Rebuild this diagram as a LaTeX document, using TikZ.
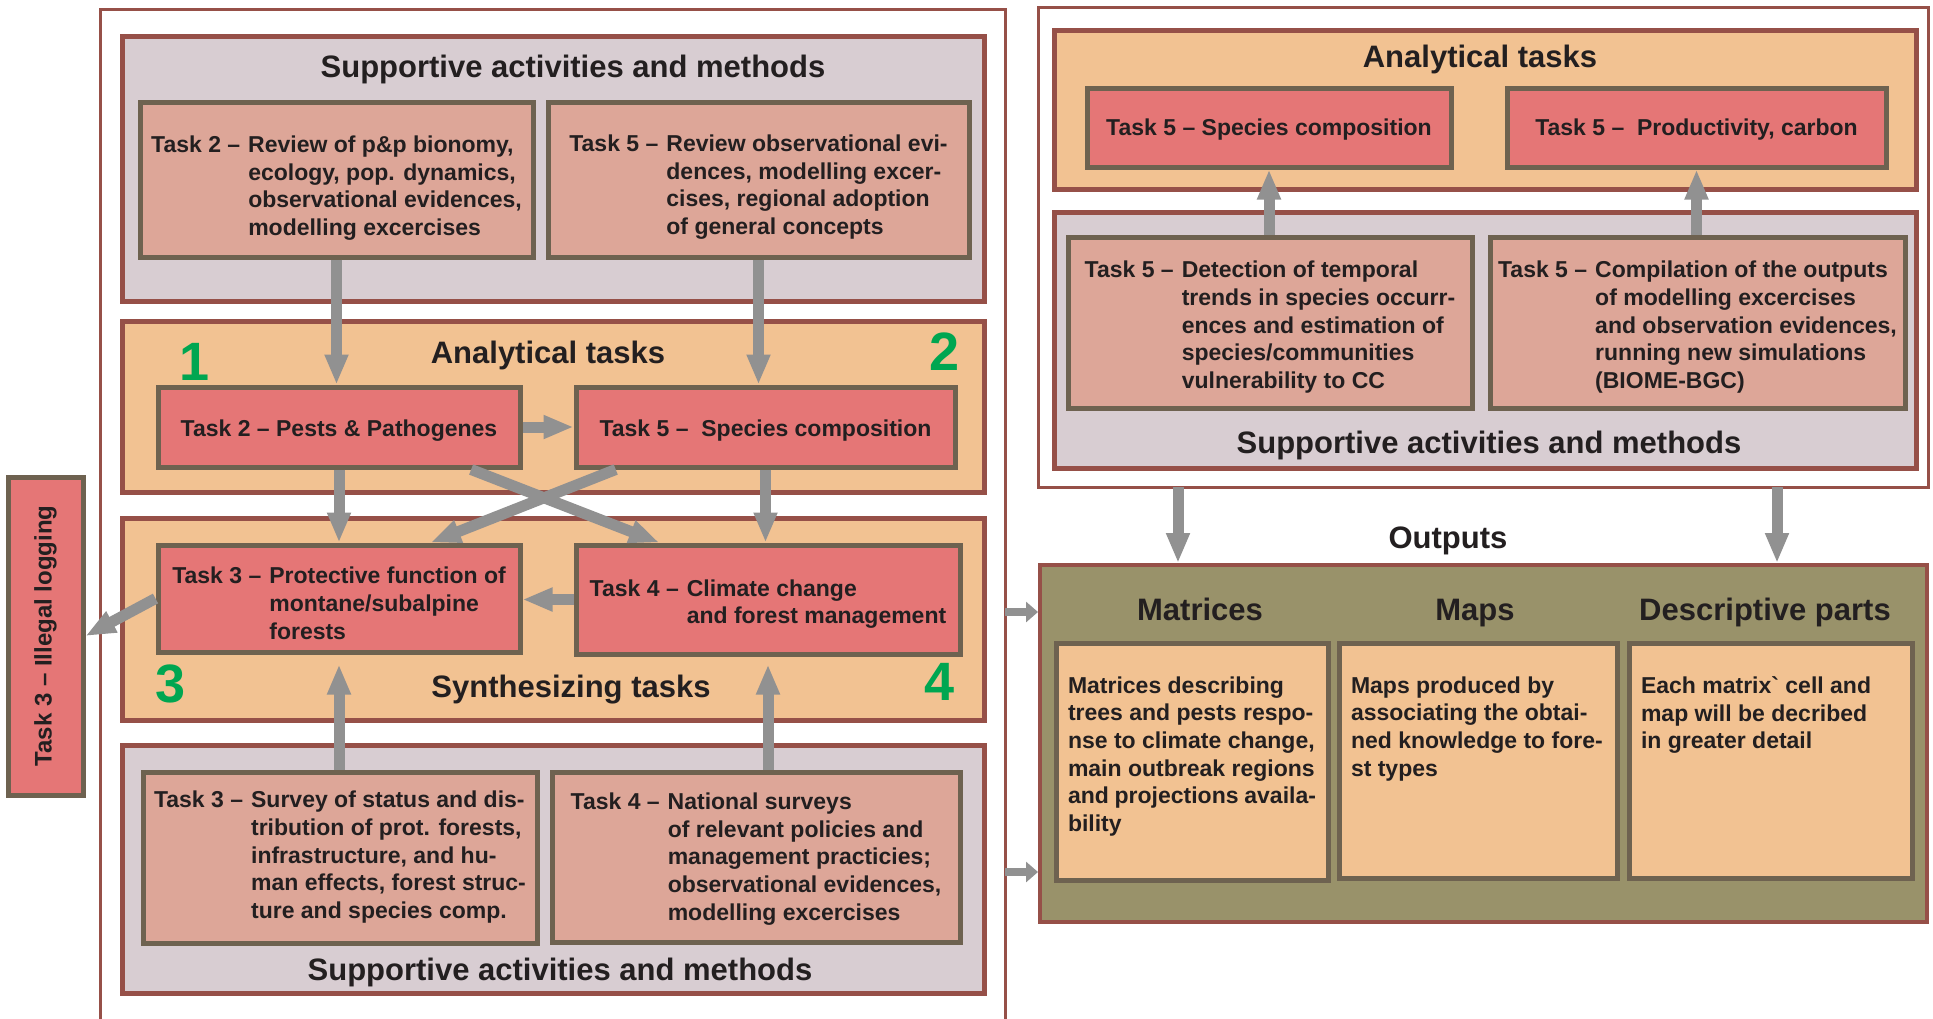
\documentclass[tikz,border=0pt]{standalone}
\usepackage{fontspec}
\setmainfont{Liberation Sans}
\usepackage{graphicx}
\usetikzlibrary{arrows.meta,calc}

\definecolor{frameRed}{HTML}{965048}
\definecolor{boxEdge}{HTML}{6E6250}
\definecolor{lavender}{HTML}{D8CDD2}
\definecolor{peach}{HTML}{F2C292}
\definecolor{taskRed}{HTML}{E57676}
\definecolor{taskPale}{HTML}{DDA698}
\definecolor{olive}{HTML}{99926A}
\definecolor{arrowGray}{HTML}{919191}
\definecolor{numGreen}{HTML}{00A651}
\definecolor{ink}{HTML}{231F20}

\newcommand{\bodyfont}{\bfseries\fontsize{11.5}{13.8}\selectfont}
\newcommand{\headfont}{\bfseries\fontsize{15.5}{18}\selectfont}
\newcommand{\numfont}{\bfseries\fontsize{27}{30}\selectfont}
% lower a text a little without changing its size
\newcommand{\dropby}[2]{\raisebox{-#1}[\height][\depth]{#2}}
% "Task n -" in front, the rest hanging beside it
\newcommand{\hangtask}[3][2.5pt]{\dropby{#1}{\begin{tabular}[t]{@{}l@{\hspace{4pt}}l@{}}#2&\begin{tabular}[t]{@{}l@{}}#3\end{tabular}\end{tabular}}}

\tikzset{> = {Triangle[width=11pt,length=15pt]}}
\tikzset{
  frame/.style={draw=frameRed, line width=1.5pt},
  panel/.style={draw=frameRed, line width=2.5pt, minimum width=431pt},
  support/.style={panel, fill=lavender},
  analytic/.style={panel, fill=peach},
  task/.style={draw=boxEdge, line width=2.5pt, fill=taskRed, text=ink, font=\bodyfont},
  review/.style={draw=boxEdge, line width=2.5pt, fill=taskPale, text=ink, font=\bodyfont},
  outbox/.style={draw=boxEdge, line width=2.5pt, fill=peach, text=ink, font=\bodyfont, inner sep=6pt},
  heading/.style={font=\headfont, text=ink, anchor=base},
  tasknum/.style={font=\numfont, text=numGreen, anchor=base},
  flow/.style={draw=arrowGray, line width=5.5pt, ->},
  smallflow/.style={draw=arrowGray, line width=4pt, -{Triangle[width=10pt,length=6pt]}}
}

\begin{document}
\begin{tikzpicture}[x=0.5pt, y=-0.5pt]
\useasboundingbox (0,0) rectangle (1933,1018);
\fill[white] (0,0) rectangle (1933,1018);
\clip (0,0) rectangle (1933,1018);

% outer frames
\node[frame, minimum width=452.5pt, minimum height=511pt] (frameL) at (552.5,520) {};
\node[frame, minimum width=445pt, minimum height=240pt] (frameR) at (1483,247) {};

% left column panels
\node[support, minimum height=132.5pt] (topSup) at (553,168.5) {};
\node[analytic, minimum height=85.5pt] (anaL) at (553,406.5) {};
\node[analytic, minimum height=101pt] (synL) at (553,619) {};
\node[support, minimum height=124pt] (botSup) at (553,869) {};

\node[heading] (topSupT) at (573,77) {Supportive activities and methods};
\node[heading] (anaLT) at (548,363) {Analytical tasks};
\node[heading] (synLT) at (571,697) {Synthesizing tasks};
\node[heading] (botSupT) at (560,980) {Supportive activities and methods};

\node[tasknum] (n1) at (195,380) {1};
\node[tasknum] (n2) at (945,370) {2};
\node[tasknum] (n3) at (171,702) {3};
\node[tasknum] (n4) at (940,700) {4};

% left column boxes
\node[review, minimum width=196.5pt, minimum height=77.5pt] (revT2) at (336.5,179.5)
  {\hangtask[4.5pt]{Task 2 --}{Review of p\&p bionomy,\\ecology, pop. dynamics,\\observational evidences,\\modelling excercises}};
\node[review, minimum width=210.5pt, minimum height=77.5pt] (revT5) at (758.5,179.5)
  {\hangtask[4pt]{Task 5 --}{Review observational evi-\\dences, modelling excer-\\cises, regional adoption\\of general concepts}};
\node[task, minimum width=181pt, minimum height=40pt] (pests) at (339,427) {\dropby{1.8pt}{Task 2 -- Pests \& Pathogenes}};
\node[task, minimum width=189.5pt, minimum height=40pt] (specL) at (765.5,427) {\dropby{1.8pt}{Task 5 --\ \ Species composition}};
\node[task, minimum width=181pt, minimum height=53.5pt] (prot) at (339,598.5)
  {\hangtask[3.7pt]{Task 3 --}{Protective function of\\montane/subalpine\\forests}};
\node[task, minimum width=192pt, minimum height=54.5pt] (clim) at (768,599.5)
  {\hangtask{Task 4 --}{Climate change\\and forest management}};
\node[review, minimum width=197pt, minimum height=85.5pt] (surT3) at (340,857.5)
  {\hangtask[0pt]{Task 3 --}{Survey of status and dis-\\tribution of prot. forests,\\infrastructure, and hu-\\man effects, forest struc-\\ture and species comp.}};
\node[review, minimum width=204pt, minimum height=85pt] (natT4) at (756,857)
  {\hangtask[1.2pt]{Task 4 --}{National surveys\\of relevant policies and\\management practicies;\\observational evidences,\\modelling excercises}};
\node[task, minimum width=37.5pt, minimum height=159pt, font=\bfseries\fontsize{12}{14}\selectfont] (illegal) at (45.5,636)
  {\rotatebox{90}{Task 3 -- Illegal logging}};

% right column
\node[analytic, minimum height=79.5pt] (anaR) at (1485,109.5) {};
\node[support, minimum height=128pt] (supR) at (1485,340) {};
\node[heading] (anaRT) at (1480,67) {Analytical tasks};
\node[heading] (supRT) at (1489,453) {Supportive activities and methods};

\node[task, minimum width=182pt, minimum height=39.5pt] (specR) at (1269,127.5) {\dropby{1.2pt}{Task 5 -- Species composition}};
\node[task, minimum width=189.5pt, minimum height=39.5pt] (prodR) at (1696.5,127.5) {\dropby{1.2pt}{Task 5 --\ \ Productivity, carbon}};
\node[review, minimum width=202pt, minimum height=85.5pt] (detect) at (1270,322.5)
  {\hangtask{Task 5 --}{Detection of temporal\\trends in species occurr-\\ences and estimation of\\species/communities\\vulnerability to CC}};
\node[review, minimum width=207.5pt, minimum height=85.5pt] (compil) at (1697.5,322.5)
  {\hangtask{Task 5 --}{Compilation of the outputs\\of modelling excercises\\and observation evidences,\\running new simulations\\(BIOME-BGC)}};

% outputs
\node[heading] (outT) at (1448,548) {Outputs};
\node[draw=frameRed, line width=2pt, fill=olive, minimum width=443.5pt, minimum height=178.5pt] (olive) at (1483.5,743.5) {};
\node[heading] (matT) at (1200,620) {Matrices};
\node[heading] (mapT) at (1475,620) {Maps};
\node[heading] (desT) at (1765,620) {Descriptive parts};
\node[outbox] (matB) at (1192,761.5)
  {\parbox[c][106.5pt][t]{124pt}{\vspace*{10.8pt}\raggedright Matrices describing\\trees and pests respo-\\nse to climate change,\\main outbreak regions\\and projections availa-\\bility}};
\node[outbox] (mapB) at (1478,760.5)
  {\parbox[c][105.5pt][t]{127pt}{\vspace*{10.8pt}\raggedright Maps produced by\\associating the obtai-\\ned knowledge to fore-\\st types}};
\node[outbox] (desB) at (1770.5,760.5)
  {\parbox[c][105.5pt][t]{129.5pt}{\vspace*{10.8pt}\raggedright Each matrix\textasciigrave{} cell and\\map will be decribed\\in greater detail}};

\coordinate (outA) at (1178,487);
\coordinate (outB) at (1777,487);
\coordinate (inA) at (1005,612);
\coordinate (inB) at (1005,872);

% arrows
\draw[flow] (revT2.south) -- (revT2.south |- pests.north);
\draw[flow] (revT5.south) -- (revT5.south |- specL.north);
\draw[flow] (pests.east) -- (specL.west);
\draw[flow] (pests.south) -- (pests.south |- prot.north);
\draw[flow] (specL.south) -- (specL.south |- clim.north);
\draw[flow] ($(pests.south west)!0.86!(pests.south east)$) -- ($(clim.north west)!0.22!(clim.north east)$);
\draw[flow] ($(specL.south west)!0.11!(specL.south east)$) -- ($(prot.north west)!0.75!(prot.north east)$);
\draw[flow] (clim.west) -- (clim.west -| prot.east);
\draw[flow, shorten >=5pt] (prot.south |- surT3.north) -- (prot.south);
\draw[flow, shorten >=4pt] (clim.south |- natT4.north) -- (clim.south);
\draw[flow] (prot.west) -- (illegal.east);
\draw[flow] (specR.south |- detect.north) -- (specR.south);
\draw[flow] (prodR.south |- compil.north) -- (prodR.south);
\draw[flow] (outA) -- (outA |- olive.north);
\draw[flow] (outB) -- (outB |- olive.north);
\draw[smallflow] (inA) -- (inA -| olive.west);
\draw[smallflow] (inB) -- (inB -| olive.west);

\end{tikzpicture}
\end{document}
